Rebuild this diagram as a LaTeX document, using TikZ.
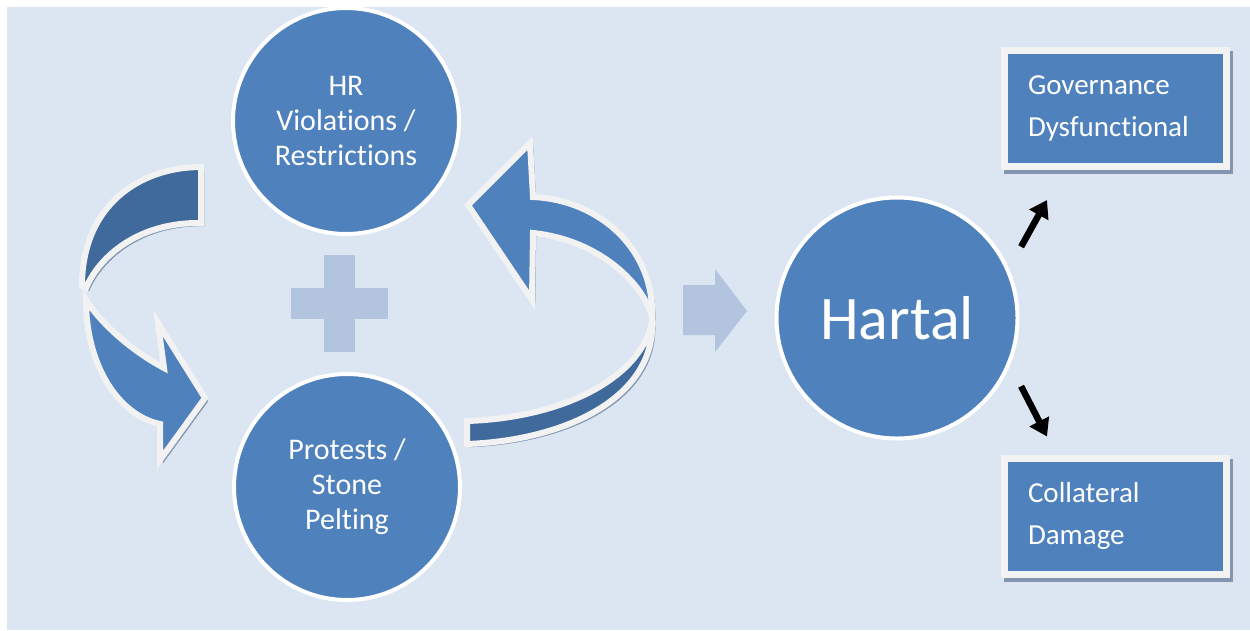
\documentclass[tikz,border=0pt]{standalone}
\usepackage{fontspec}
\setmainfont{Carlito}[Ligatures={NoCommon}]
\usetikzlibrary{arrows.meta}
\definecolor{bgblue}{HTML}{DCE6F2}
\definecolor{midblue}{HTML}{4F81BD}
\definecolor{darkblue}{HTML}{406A9B}
\definecolor{paleblue}{HTML}{B3C5DE}
\definecolor{rimgray}{HTML}{F2F2F2}
\definecolor{shadegray}{HTML}{8396B0}
\tikzset{
 cycle/.style={circle,fill=midblue,draw=white,line width=4pt,text=white,align=center,
  minimum size=226pt,inner sep=0pt,font=\fontsize{30}{35}\selectfont},
 result/.style={rectangle,fill=midblue,draw=rimgray,line width=7pt,text=white,align=left,
  text width=175pt,minimum width=222pt,minimum height=116pt,font=\fontsize{29}{42}\selectfont,
  preaction={draw=shadegray,fill=shadegray,transform canvas={shift={(3pt,-4pt)}}}},
 ribbon/.style={draw=rimgray,line width=6pt,line join=miter,
  preaction={draw=shadegray,fill=shadegray,transform canvas={shift={(3pt,-3pt)}}}},
 outcome/.style={-{Triangle[length=17pt,width=21pt]},line width=6.5pt,black}
}
\begin{document}
\begin{tikzpicture}[x=1pt,y=-1pt]
 \useasboundingbox (0,0) rectangle (1250,630);
 \fill[bgblue] (7,7) rectangle (1250,630); % background

 % left loop arrow
 \path[ribbon,fill=darkblue] (201,167) .. controls (140,167) and (82,205) .. (82,286)
  -- (86,288) .. controls (100,255) and (140,222) .. (201,223) -- cycle;
 \path[ribbon,fill=midblue] (86,300) .. controls (86,365) and (118,415) .. (160,424)
  -- (160,460) -- (205,398) -- (158,323) -- (164,368)
  .. controls (130,350) and (100,322) .. (86,300) -- cycle;

 % right loop arrow
 \path[ribbon,fill=darkblue] (652,322) .. controls (655,395) and (570,440) .. (467,444)
  -- (467,421) .. controls (560,418) and (640,380) .. (652,322) -- cycle;
 \path[ribbon,fill=midblue] (530,143) -- (468,205) -- (532,300) -- (533,233)
  .. controls (600,240) and (645,285) .. (652,318)
  .. controls (655,250) and (600,200) .. (533,197) -- cycle;

 % plus
 \fill[paleblue] (291,288) rectangle (388,319);
 \fill[paleblue] (324,255) rectangle (355,352);

 % grey arrow
 \fill[paleblue] (683,285) -- (715,285) -- (715,269) -- (747,311) -- (715,352)
  -- (715,335) -- (683,335) -- cycle;

 \node[cycle] (hr) at (346,121) {HR\\Violations /\\Restrictions};
 \node[cycle] (protest) at (347,487) {Protests /\\Stone\\Pelting};
 \node[cycle,minimum size=241pt,font=\fontsize{62}{70}\selectfont] (hartal) at (897,318) {Hartal};

 \node[result] (gov) at (1115.5,108.5) {Governance\\Dysfunctional};
 \node[result] (damage) at (1115.5,516) {Collateral\\Damage};

 \draw[outcome] ([shift={(18,-10)}]hartal.30) -- ([shift={(46,30)}]gov.south west);
 \draw[outcome] ([shift={(18,7)}]hartal.-30) -- ([shift={(46,-18)}]damage.north west);
\end{tikzpicture}
\end{document}
